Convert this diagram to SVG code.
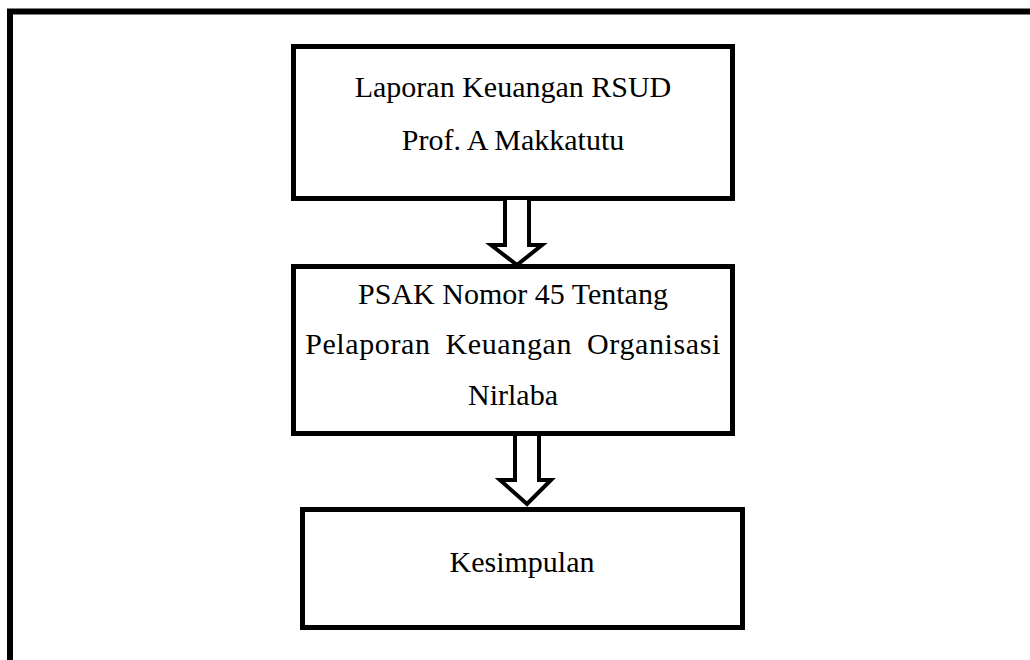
<svg xmlns="http://www.w3.org/2000/svg" width="1030" height="660" viewBox="0 0 1030 660">
<style>
.box{fill:#fff;stroke:#000;stroke-width:5}
.arr{fill:#fff;stroke:#000;stroke-width:4;stroke-linejoin:miter}
.t{font-family:"Liberation Serif","Times New Roman",serif;font-size:30px;fill:#000;text-anchor:middle}
.frame{fill:none;stroke:#000;stroke-width:6}
</style>
<rect width="1030" height="660" fill="#fff"/>
<path class="frame" d="M10,665 V11.5 H1040"/>
<g id="node1">
<rect class="box" x="293.5" y="46.5" width="439" height="152"/>
<text class="t" x="513" y="97">Laporan Keuangan RSUD</text>
<text class="t" x="513" y="150">Prof. A Makkatutu</text>
</g>
<g id="node2">
<rect class="box" x="293.5" y="266.5" width="439" height="167"/>
<text class="t" x="513" y="304">PSAK Nomor 45 Tentang</text>
<text class="t" x="513" y="354" word-spacing="7" letter-spacing="0.6">Pelaporan Keuangan Organisasi</text>
<text class="t" x="513" y="405">Nirlaba</text>
</g>
<g id="node3">
<rect class="box" x="302.5" y="509.5" width="440" height="118"/>
<text class="t" x="522" y="572">Kesimpulan</text>
</g>
<g id="connectors">
<polygon class="arr" points="505,198 529,198 529,245 542,245 517,265 491,245 505,245"/>
<polygon class="arr" points="515,434 539,434 539,480 551,480 527,504 500,480 515,480"/>
</g>
</svg>
